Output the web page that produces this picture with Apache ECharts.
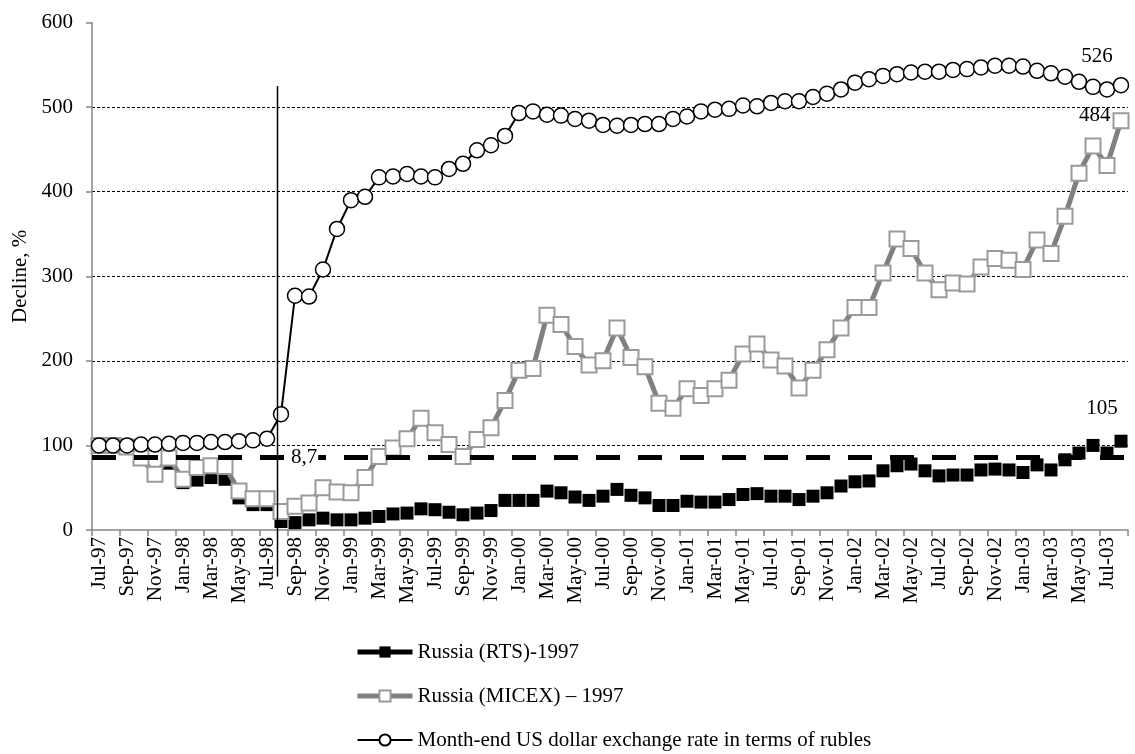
<!DOCTYPE html>
<html>
<head>
<meta charset="utf-8">
<script src="https://cdn.jsdelivr.net/npm/echarts@6/dist/echarts.min.js"></script>
<style>
html,body{margin:0;padding:0;background:#fff;}
#chart{width:1135px;height:754px;}
</style>
</head>
<body>
<div id="chart"></div>
<script>
// ---------- DATA ----------
const categories = [
  'Jul-97','Aug-97','Sep-97','Oct-97','Nov-97','Dec-97',
  'Jan-98','Feb-98','Mar-98','Apr-98','May-98','Jun-98','Jul-98','Aug-98','Sep-98','Oct-98','Nov-98','Dec-98',
  'Jan-99','Feb-99','Mar-99','Apr-99','May-99','Jun-99','Jul-99','Aug-99','Sep-99','Oct-99','Nov-99','Dec-99',
  'Jan-00','Feb-00','Mar-00','Apr-00','May-00','Jun-00','Jul-00','Aug-00','Sep-00','Oct-00','Nov-00','Dec-00',
  'Jan-01','Feb-01','Mar-01','Apr-01','May-01','Jun-01','Jul-01','Aug-01','Sep-01','Oct-01','Nov-01','Dec-01',
  'Jan-02','Feb-02','Mar-02','Apr-02','May-02','Jun-02','Jul-02','Aug-02','Sep-02','Oct-02','Nov-02','Dec-02',
  'Jan-03','Feb-03','Mar-03','Apr-03','May-03','Jun-03','Jul-03','Aug-03'
];

const rtsValues = [
  100,100,100,86,68,79,
  56,59,62,60,38,30,30,10,8.7,12,14,12,
  12,14,16,19,20,25,24,21,18,20,23,35,
  35,35,46,44,39,35,40,48,41,38,29,29,
  34,33,33,36,42,43,40,40,36,40,44,52,
  57,58,70,76,78,70,64,65,65,71,72,71,
  68,77,71,83,91,100,91,105
];

const micexValues = [
  100,100,98,85,66,85,
  60,74,76,75,46,37,37,22,28,32,50,45,
  44,62,87,97,108,132,115,101,87,107,121,153,
  189,191,254,243,217,195,200,239,204,193,150,144,
  167,159,167,177,208,220,201,194,168,189,213,239,
  263,263,304,344,333,304,284,292,291,311,321,319,
  308,343,327,371,422,454,431,484
];

const usdRubValues = [
  100,100,100,101,101,102,
  103,103,104,104,105,106,108,137,277,276,308,356,
  390,394,417,418,421,418,417,427,433,449,455,466,
  493,495,491,490,486,484,479,478,479,480,480,486,
  489,495,497,498,502,501,505,507,507,512,516,521,
  529,533,537,539,541,542,542,544,545,547,549,549,
  548,543,540,536,530,524,521,526
];

const seriesNames = [
  'Russia (RTS)-1997',
  'Russia (MICEX) \u2013 1997',
  'Month-end US dollar exchange rate in terms of rubles'
];

const rtsThreshold = 86;        // dashed reference line level
const rtsThresholdLabel = '8,7';
const rtsThresholdLabelIndex = 13;

const crisisIndex = 12;         // vertical line between Jul-98 and Aug-98
const crisisFraction = 0.75;
const crisisLineTop = 525;
const crisisLineBottom = -55;

const yTicks = { min: 0, max: 600, interval: 100 };

// ---------- CHART ----------
const FONT = '"Liberation Serif", "Times New Roman", serif';
const last = categories.length - 1;

function withLastLabel(values, labelOpt) {
  return values.map((v, i) => i === last ? { value: v, label: Object.assign({ show: true, fontFamily: FONT, fontSize: 21, color: '#000' }, labelOpt) } : v);
}

const chart = echarts.init(document.getElementById('chart'), null, { renderer: 'canvas' });

const option = {
  animation: false,
  backgroundColor: '#fff',
  textStyle: { fontFamily: FONT, color: '#000' },
  grid: { left: 92, right: 7, top: 22.6, bottom: 224, containLabel: false },
  legend: {
    orient: 'vertical',
    left: 355,
    top: 641,
    width: 600,
    height: 113,
    padding: 0,
    itemWidth: 55,
    itemHeight: 14,
    itemGap: 22,
    selectedMode: false,
    textStyle: { fontFamily: FONT, fontSize: 21, color: '#000', lineHeight: 22 },
    data: [
      { name: seriesNames[0], lineStyle: { color: '#000', width: 5, type: 'solid', opacity: 1 } },
      { name: seriesNames[1], lineStyle: { color: '#808080', width: 5, type: 'solid', opacity: 1 } },
      { name: seriesNames[2], lineStyle: { color: '#000', width: 2, type: 'solid', opacity: 1 } }
    ]
  },
  xAxis: {
    type: 'category',
    data: categories,
    boundaryGap: true,
    axisLine: { show: true, lineStyle: { color: '#868686', width: 1.5 } },
    axisTick: { show: true, interval: 1, length: 6, lineStyle: { color: '#868686', width: 1.5 } },
    axisLabel: { interval: 1, rotate: 90, margin: 7, fontFamily: FONT, fontSize: 21, color: '#000' },
    splitLine: { show: false }
  },
  yAxis: {
    type: 'value',
    min: yTicks.min,
    max: yTicks.max,
    interval: yTicks.interval,
    name: 'Decline, %',
    nameLocation: 'middle',
    nameGap: 58,
    nameRotate: 90,
    nameTextStyle: { fontFamily: FONT, fontSize: 21, color: '#000' },
    axisLine: { show: true, lineStyle: { color: '#868686', width: 1.5 } },
    axisTick: { show: true, length: 6, lineStyle: { color: '#868686', width: 1.5 } },
    axisLabel: { margin: 19, fontFamily: FONT, fontSize: 21, color: '#000' },
    splitLine: { show: true, showMinLine: false, showMaxLine: false, lineStyle: { color: '#000', width: 1, type: [3, 2] } }
  },
  series: [
    {
      name: seriesNames[0],
      type: 'line',
      data: withLastLabel(rtsValues, { position: 'top', offset: [-19, -11] }),
      symbol: 'rect',
      symbolSize: 13,
      showSymbol: true,
      showAllSymbol: true,
      itemStyle: { color: '#000', borderColor: '#000', borderWidth: 0 },
      lineStyle: { width: 0, color: '#000' },
      emphasis: { disabled: true },
      z: 2,
      markLine: {
        silent: true,
        symbol: 'none',
        label: { show: false },
        lineStyle: { color: '#000', width: 5, type: [24, 18] },
        emphasis: { disabled: true },
        data: [{ yAxis: rtsThreshold }]
      }
    },
    {
      name: seriesNames[1],
      type: 'line',
      data: withLastLabel(micexValues, { position: 'left', distance: 2, offset: [0, -5] }),
      symbol: 'rect',
      symbolSize: 15,
      showSymbol: true,
      showAllSymbol: true,
      itemStyle: { color: '#fff', borderColor: '#9a9a9a', borderWidth: 2 },
      lineStyle: { width: 5, color: '#808080' },
      emphasis: { disabled: true },
      z: 3
    },
    {
      name: seriesNames[2],
      type: 'line',
      data: withLastLabel(usdRubValues, { position: 'top', offset: [-24, -5] }),
      symbol: 'circle',
      symbolSize: 15,
      showSymbol: true,
      showAllSymbol: true,
      itemStyle: { color: '#fff', borderColor: '#000', borderWidth: 1.5 },
      lineStyle: { width: 2, color: '#000' },
      emphasis: { disabled: true },
      z: 4
    },
    {
      name: 'thresholdLabel',
      type: 'scatter',
      data: [[rtsThresholdLabelIndex, rtsThreshold]],
      symbol: 'rect',
      symbolSize: 0,
      silent: true,
      z: 10,
      itemStyle: { color: '#000', opacity: 1 },
      label: {
        show: true,
        position: 'right',
        distance: 9,
        formatter: rtsThresholdLabel,
        fontFamily: FONT,
        fontSize: 21,
        color: '#000',
        opacity: 1,
        textBorderWidth: 0,
        backgroundColor: '#fff',
        padding: [0, 1]
      }
    },
    {
      name: 'crisisLine',
      type: 'custom',
      silent: true,
      clip: false,
      z: 8,
      data: [[crisisIndex, crisisLineTop]],
      renderItem: function (params, api) {
        const a = api.coord([crisisIndex, crisisLineTop]);
        const b = api.coord([crisisIndex + 1, crisisLineBottom]);
        const x = a[0] + crisisFraction * (b[0] - a[0]);
        return {
          type: 'line',
          shape: { x1: x, y1: a[1], x2: x, y2: b[1] },
          style: { stroke: '#000', lineWidth: 1.5 }
        };
      }
    }
  ]
};

chart.setOption(option);
</script>
</body>
</html>
